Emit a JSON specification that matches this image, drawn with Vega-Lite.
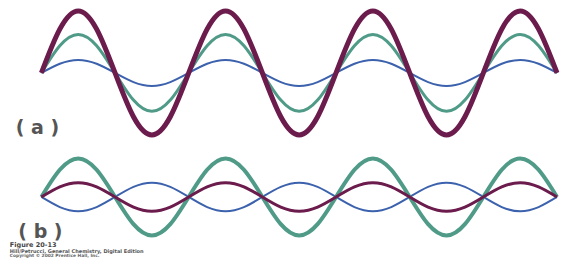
{
  "$schema": "https://vega.github.io/schema/vega-lite/v6.json",
  "width": 567,
  "height": 258,
  "padding": 0,
  "autosize": {"type": "fit", "contains": "padding"},
  "background": "white",
  "config": {"view": {"stroke": null}},
  "datasets": {
    "waves": [
      {"x":0,"aP":0,"aT":0,"aB":0,"bT":0,"bP":0,"bB":0},
      {"x":0.25,"aP":0.707,"aT":0.438,"aB":0.148,"bT":0.438,"bP":0.163,"bB":-0.163},
      {"x":0.5,"aP":1,"aT":0.62,"aB":0.21,"bT":0.62,"bP":0.23,"bB":-0.23},
      {"x":0.75,"aP":0.707,"aT":0.438,"aB":0.148,"bT":0.438,"bP":0.163,"bB":-0.163},
      {"x":1,"aP":0,"aT":0,"aB":0,"bT":0,"bP":0,"bB":0},
      {"x":1.25,"aP":-0.707,"aT":-0.438,"aB":-0.148,"bT":-0.438,"bP":-0.163,"bB":0.163},
      {"x":1.5,"aP":-1,"aT":-0.62,"aB":-0.21,"bT":-0.62,"bP":-0.23,"bB":0.23},
      {"x":1.75,"aP":-0.707,"aT":-0.438,"aB":-0.148,"bT":-0.438,"bP":-0.163,"bB":0.163},
      {"x":2,"aP":0,"aT":0,"aB":0,"bT":0,"bP":0,"bB":0},
      {"x":2.25,"aP":0.707,"aT":0.438,"aB":0.148,"bT":0.438,"bP":0.163,"bB":-0.163},
      {"x":2.5,"aP":1,"aT":0.62,"aB":0.21,"bT":0.62,"bP":0.23,"bB":-0.23},
      {"x":2.75,"aP":0.707,"aT":0.438,"aB":0.148,"bT":0.438,"bP":0.163,"bB":-0.163},
      {"x":3,"aP":0,"aT":0,"aB":0,"bT":0,"bP":0,"bB":0},
      {"x":3.25,"aP":-0.707,"aT":-0.438,"aB":-0.148,"bT":-0.438,"bP":-0.163,"bB":0.163},
      {"x":3.5,"aP":-1,"aT":-0.62,"aB":-0.21,"bT":-0.62,"bP":-0.23,"bB":0.23},
      {"x":3.75,"aP":-0.707,"aT":-0.438,"aB":-0.148,"bT":-0.438,"bP":-0.163,"bB":0.163},
      {"x":4,"aP":0,"aT":0,"aB":0,"bT":0,"bP":0,"bB":0},
      {"x":4.25,"aP":0.707,"aT":0.438,"aB":0.148,"bT":0.438,"bP":0.163,"bB":-0.163},
      {"x":4.5,"aP":1,"aT":0.62,"aB":0.21,"bT":0.62,"bP":0.23,"bB":-0.23},
      {"x":4.75,"aP":0.707,"aT":0.438,"aB":0.148,"bT":0.438,"bP":0.163,"bB":-0.163},
      {"x":5,"aP":0,"aT":0,"aB":0,"bT":0,"bP":0,"bB":0},
      {"x":5.25,"aP":-0.707,"aT":-0.438,"aB":-0.148,"bT":-0.438,"bP":-0.163,"bB":0.163},
      {"x":5.5,"aP":-1,"aT":-0.62,"aB":-0.21,"bT":-0.62,"bP":-0.23,"bB":0.23},
      {"x":5.75,"aP":-0.707,"aT":-0.438,"aB":-0.148,"bT":-0.438,"bP":-0.163,"bB":0.163},
      {"x":6,"aP":0,"aT":0,"aB":0,"bT":0,"bP":0,"bB":0},
      {"x":6.25,"aP":0.707,"aT":0.438,"aB":0.148,"bT":0.438,"bP":0.163,"bB":-0.163},
      {"x":6.5,"aP":1,"aT":0.62,"aB":0.21,"bT":0.62,"bP":0.23,"bB":-0.23},
      {"x":6.75,"aP":0.707,"aT":0.438,"aB":0.148,"bT":0.438,"bP":0.163,"bB":-0.163},
      {"x":7,"aP":0,"aT":0,"aB":0,"bT":0,"bP":0,"bB":0}
    ],
    "labelsA": [
      {"x":-0.054,"y":-0.889,"t":"( a )"}
    ],
    "labelsB": [
      {"x":-0.013,"y":-0.571,"t":"( b )"}
    ],
    "caption1": [
      {"x":-0.428,"y":-0.778,"t":"Figure 20-13"}
    ],
    "caption2": [
      {"x":-0.428,"y":-0.873,"t":"Hill/Petrucci, General Chemistry, Digital Edition"}
    ],
    "caption3": [
      {"x":-0.428,"y":-0.948,"t":"Copyright © 2002 Prentice Hall, Inc."}
    ]
  },
  "encoding": {
    "x": {"field": "x", "type": "quantitative", "axis": null,
          "scale": {"domain": [-0.562, 7.027], "nice": false, "zero": false}}
  },
  "layer": [
    {
      "layer": [
        {"data": {"name": "waves"}, "mark": {"type": "line", "interpolate": "natural", "color": "#3c62ad", "strokeWidth": 2},
         "encoding": {"y": {"field": "aB", "type": "quantitative", "axis": null,
                            "scale": {"domain": [-2.984, 1.111], "nice": false, "zero": false}}}},
        {"data": {"name": "waves"}, "mark": {"type": "line", "interpolate": "natural", "color": "#4f9b88", "strokeWidth": 3},
         "encoding": {"y": {"field": "aT", "type": "quantitative", "axis": null}}},
        {"data": {"name": "waves"}, "mark": {"type": "line", "interpolate": "natural", "color": "#6b1b4c", "strokeWidth": 5},
         "encoding": {"y": {"field": "aP", "type": "quantitative", "axis": null}}},
        {"data": {"name": "labelsA"}, "mark": {"type": "text", "font": "DejaVu Sans", "fontWeight": "bold", "fontSize": 19, "color": "#555555", "align": "center", "baseline": "middle"},
         "encoding": {"y": {"field": "y", "type": "quantitative", "axis": null}, "text": {"field": "t"}}}
      ]
    },
    {
      "layer": [
        {"data": {"name": "waves"}, "mark": {"type": "line", "interpolate": "natural", "color": "#3c62ad", "strokeWidth": 2},
         "encoding": {"y": {"field": "bB", "type": "quantitative", "axis": null,
                            "scale": {"domain": [-0.984, 3.111], "nice": false, "zero": false}}}},
        {"data": {"name": "waves"}, "mark": {"type": "line", "interpolate": "natural", "color": "#4f9b88", "strokeWidth": 4},
         "encoding": {"y": {"field": "bT", "type": "quantitative", "axis": null}}},
        {"data": {"name": "waves"}, "mark": {"type": "line", "interpolate": "natural", "color": "#6b1b4c", "strokeWidth": 3},
         "encoding": {"y": {"field": "bP", "type": "quantitative", "axis": null}}},
        {"data": {"name": "labelsB"}, "mark": {"type": "text", "font": "DejaVu Sans", "fontWeight": "bold", "fontSize": 19, "color": "#555555", "align": "center", "baseline": "middle"},
         "encoding": {"y": {"field": "y", "type": "quantitative", "axis": null}, "text": {"field": "t"}}},
        {"data": {"name": "caption1"}, "mark": {"type": "text", "font": "DejaVu Sans", "fontWeight": "bold", "fontSize": 6.5, "color": "#444444", "align": "left", "baseline": "middle"},
         "encoding": {"y": {"field": "y", "type": "quantitative", "axis": null}, "text": {"field": "t"}}},
        {"data": {"name": "caption2"}, "mark": {"type": "text", "font": "DejaVu Sans", "fontWeight": "bold", "fontSize": 5, "color": "#555555", "align": "left", "baseline": "middle"},
         "encoding": {"y": {"field": "y", "type": "quantitative", "axis": null}, "text": {"field": "t"}}},
        {"data": {"name": "caption3"}, "mark": {"type": "text", "font": "DejaVu Sans", "fontWeight": "bold", "fontSize": 4.4, "color": "#666666", "align": "left", "baseline": "middle"},
         "encoding": {"y": {"field": "y", "type": "quantitative", "axis": null}, "text": {"field": "t"}}}
      ]
    }
  ],
  "resolve": {"scale": {"y": "independent"}}
}
